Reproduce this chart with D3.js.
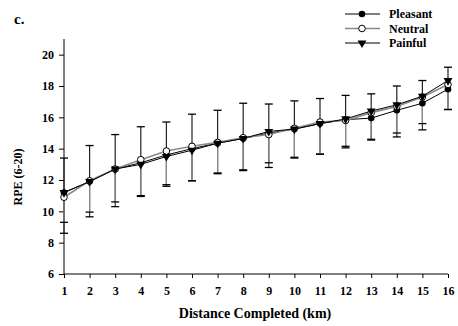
<!DOCTYPE html>
<html>
<head>
<meta charset="utf-8">
<script src="https://cdn.jsdelivr.net/npm/d3@7"></script>
<style>
  body { margin: 0; background: #fff; }
  text { font-family: "Liberation Serif", "Times New Roman", serif; font-weight: bold; fill: #000; }
</style>
</head>
<body>
<div id="chart"></div>
<script>
// data
var km = [1, 2, 3, 4, 5, 6, 7, 8, 9, 10, 11, 12, 13, 14, 15, 16];
var pleasant = [11.2, 11.9, 12.7, 13.1, 13.6, 14.0, 14.35, 14.65, 15.0, 15.25, 15.6, 15.85, 15.95, 16.45, 16.9, 17.8];
var neutral = [10.9, 11.95, 12.7, 13.3, 13.85, 14.15, 14.4, 14.7, 14.9, 15.3, 15.7, 15.8, 16.3, 16.7, 17.3, 18.1];
var painful = [11.2, 11.9, 12.7, 13.0, 13.5, 13.9, 14.35, 14.65, 15.1, 15.25, 15.6, 15.9, 16.4, 16.8, 17.35, 18.35];
// SD (pleasant and neutral drawn downwards, painful upwards)
var pleasantSD = [2.6, 2.25, 2.4, 2.15, 2.0, 2.05, 1.95, 2.05, 2.2, 1.85, 1.95, 1.8, 1.4, 1.7, 1.7, 1.3];
var neutralSD = [1.6, 2.0, 2.1, 2.3, 2.15, 2.2, 1.95, 2.05, 1.8, 1.85, 2.05, 1.65, 1.7, 1.7, 1.7, 1.6];
var painfulSD = [2.2, 2.3, 2.2, 2.4, 2.2, 2.3, 2.1, 2.25, 1.75, 1.8, 1.6, 1.5, 1.1, 1.2, 1.0, 0.85];
var yTicks = [6, 8, 10, 12, 14, 16, 18, 20];
var seriesNames = ["Pleasant", "Neutral", "Painful"];

var width = 458, height = 326;
var margin = {top: 39, right: 10, bottom: 52, left: 64};

var svg = d3.select("#chart").append("svg")
    .attr("width", width)
    .attr("height", height);

var x = d3.scaleLinear().domain([1, 16]).range([64, 448]);
var y = d3.scaleLinear().domain([6, 21]).range([274, 39]);

// series setup
var series = [
  {name: "Pleasant", values: pleasant, sd: pleasantSD, dir: -1, line: "#000", lw: 1, bar: "#333", marker: "dot"},
  {name: "Neutral", values: neutral, sd: neutralSD, dir: -1, line: "#8a8a8a", lw: 1.6, bar: "#888", marker: "open"},
  {name: "Painful", values: painful, sd: painfulSD, dir: 1, line: "#000", lw: 1, bar: "#222", marker: "tri"}
];

// axes
var yAxis = svg.append("g")
    .attr("transform", "translate(64,0)")
    .call(d3.axisLeft(y).tickValues(yTicks).tickSize(5).tickPadding(5).tickFormat(d3.format("d")));
yAxis.select(".domain").attr("d", "M0," + y(21) + "V" + y(6));
yAxis.selectAll("text").style("font-size", "12px");

var xAxis = svg.append("g")
    .attr("transform", "translate(0,274)")
    .call(d3.axisBottom(x).tickValues(km).tickSize(4).tickPadding(8).tickFormat(d3.format("d")));
xAxis.select(".domain").attr("d", "M64,0H448");
xAxis.selectAll("text").style("font-size", "12px");
svg.selectAll(".domain").attr("stroke", "#000");
svg.selectAll(".tick line").attr("stroke", "#000");

// error bars
var cap = 4;
series.forEach(function(s) {
  var g = svg.append("g");
  var end = function(d, i) { return y(d + s.dir * s.sd[i]); };
  g.selectAll("line.bar").data(s.values).enter().append("line")
    .attr("x1", function(d, i) { return x(km[i]); })
    .attr("x2", function(d, i) { return x(km[i]); })
    .attr("y1", function(d) { return y(d); })
    .attr("y2", end)
    .attr("stroke", s.bar).attr("stroke-width", 1.2);
  g.selectAll("line.cap").data(s.values).enter().append("line")
    .attr("x1", function(d, i) { return x(km[i]) - cap; })
    .attr("x2", function(d, i) { return x(km[i]) + cap; })
    .attr("y1", end)
    .attr("y2", end)
    .attr("stroke", "#000").attr("stroke-width", 1.3);
});

// lines
var line = d3.line()
    .x(function(d, i) { return x(km[i]); })
    .y(function(d) { return y(d); });

series.forEach(function(s) {
  svg.append("path")
    .datum(s.values)
    .attr("fill", "none")
    .attr("stroke", s.line)
    .attr("stroke-width", s.lw)
    .attr("d", line);
});

var triangle = d3.symbol().type(d3.symbolTriangle).size(34);

function drawMarker(g, type, cx, cy) {
  if (type === "dot") {
    g.append("circle").attr("cx", cx).attr("cy", cy).attr("r", 3.3).attr("fill", "#000");
  } else if (type === "open") {
    g.append("circle").attr("cx", cx).attr("cy", cy).attr("r", 3.3)
      .attr("fill", "#fff").attr("stroke", "#000").attr("stroke-width", 1);
  } else {
    g.append("path").attr("d", triangle)
      .attr("transform", "translate(" + cx + "," + cy + ") rotate(180)")
      .attr("fill", "#000");
  }
}

series.forEach(function(s) {
  var g = svg.append("g");
  s.values.forEach(function(v, i) {
    drawMarker(g, s.marker, x(km[i]), y(v));
  });
});

// legend
var legend = svg.append("g");
series.forEach(function(s, i) {
  var ly = 14 + i * 14.5;
  legend.append("line")
    .attr("x1", 345).attr("x2", 380)
    .attr("y1", ly).attr("y2", ly)
    .attr("stroke", s.line).attr("stroke-width", s.lw);
  drawMarker(legend, s.marker, 362, ly);
  legend.append("text")
    .attr("x", 389).attr("y", ly + 4)
    .style("font-size", "12px")
    .text(s.name);
});

// labels
svg.append("text")
  .attr("x", 14).attr("y", 24)
  .style("font-size", "15px")
  .text("c.");

svg.append("text")
  .attr("transform", "translate(22,177) rotate(-90)")
  .attr("text-anchor", "middle")
  .style("font-size", "12px")
  .text("RPE (6-20)");

svg.append("text")
  .attr("x", 255).attr("y", 318)
  .attr("text-anchor", "middle")
  .style("font-size", "14px")
  .text("Distance Completed (km)");
</script>
</body>
</html>
